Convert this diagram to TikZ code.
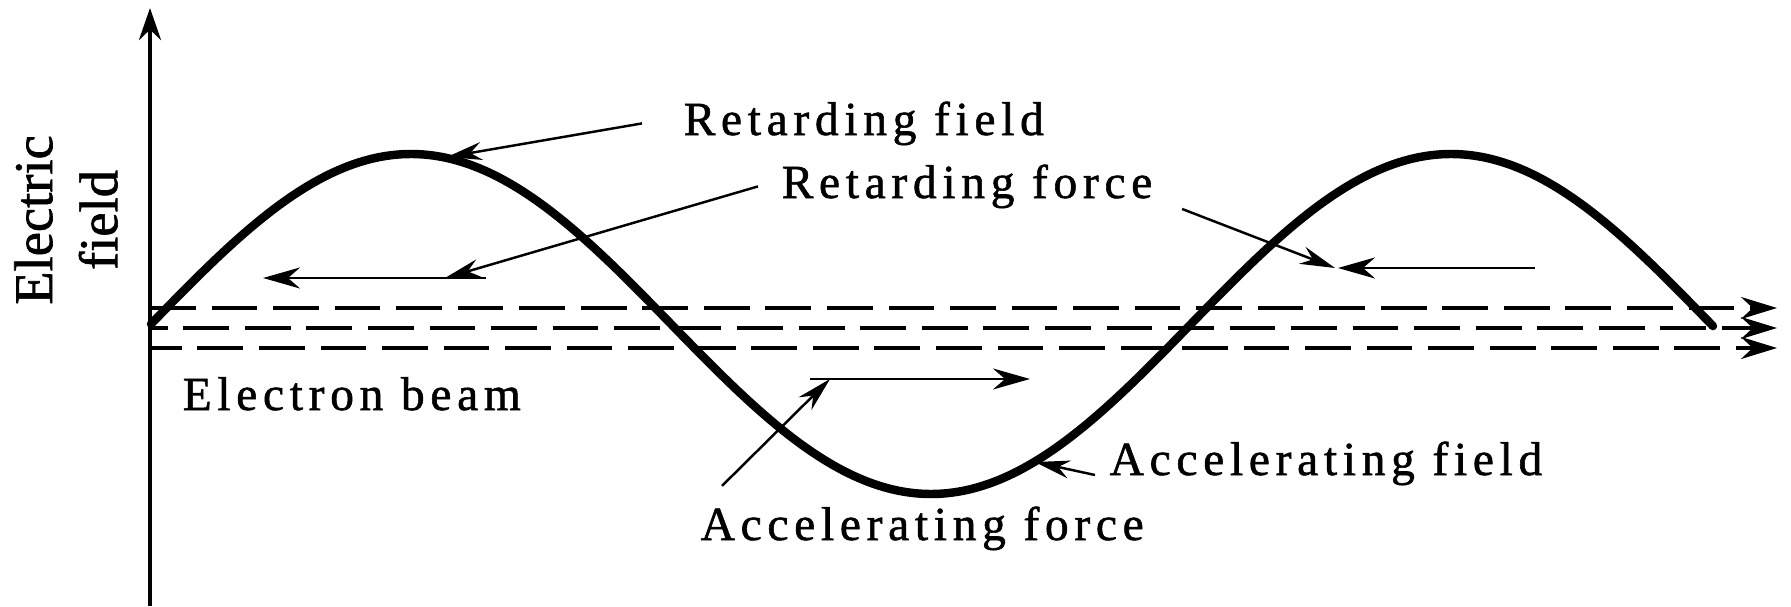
\documentclass[tikz,border=0pt]{standalone}
\usepackage{fontspec}
\setmainfont{Liberation Serif}[FakeBold=1.2]
\newfontfamily\lblfont[LetterSpace=12,FakeBold=1.2]{Liberation Serif}
\usetikzlibrary{arrows.meta}

\begin{document}
\begin{tikzpicture}[x=0.01cm,y=-0.01cm,
  lbl/.style={font=\lblfont\fontsize{13.5}{16}\selectfont,inner sep=0pt,anchor=base west},
  pointer/.style={line width=0.7pt,-{Stealth[length=3.5mm,width=1.8mm]}},
  force/.style={line width=0.8pt,-{Stealth[length=3.7mm,width=2.1mm]}},
  beam/.style={line width=0.9pt,dash pattern=on 13pt off 4.5pt,-{Stealth[length=3.6mm,width=2.2mm]}},
  wave/.style={line width=2.4pt,line cap=round}]
  \useasboundingbox (0,0) rectangle (1791,606);
  \draw[line width=1.3pt,-{Stealth[length=3.2mm,width=2.2mm]}] (150,606) -- (150,8);
  \node[rotate=90,align=center,inner sep=0pt,font=\fontsize{15.5}{18.5}\selectfont] (efield) at (66,220) {Electric\\field};

  % electron beam
  \draw[beam] (150,308) -- (1777,308);
  \draw[beam,dash phase=8pt] (150,328) -- (1777,328);
  \draw[beam,dash phase=4pt] (150,348) -- (1777,348);
  \draw[wave] plot[domain=151:1713,samples=150,smooth] (\x,{324-170*sin(0.346154*(\x-151))});

  \node[lbl] (rfield) at (683,135) {Retarding field};
  \node[lbl] (rforce) at (781,198) {Retarding force};
  \node[lbl] (ebeam) at (182,410) {Electron beam};
  \node[lbl] (afield) at (1109,475) {Accelerating field};
  \node[lbl] (aforce) at (700,540) {Accelerating force};

  \coordinate (rfieldtip) at (447,157);
  \coordinate (rforcel) at (445,278);
  \coordinate (rforcer) at (1335,268);
  \coordinate (afieldtip) at (1035,462);
  \coordinate (aforcetip) at (830,379);

  \draw[pointer] ([xshift=-0.41cm]rfield.west) -- (rfieldtip);
  \draw[pointer] ([xshift=-0.23cm]rforce.west) -- (rforcel);
  \draw[pointer] ([xshift=0.29cm]rforce.south east) -- (rforcer);
  \draw[pointer] ([xshift=-0.14cm]afield.base west) -- (afieldtip);
  \draw[pointer] ([xshift=0.22cm,yshift=0.2cm]aforce.north west) -- (aforcetip);

  \draw[force] (486,278) -- (263,278);
  \draw[force] (1535,268) -- (1338,268);
  \draw[force] (810,379) -- (1030,379);
\end{tikzpicture}
\end{document}
